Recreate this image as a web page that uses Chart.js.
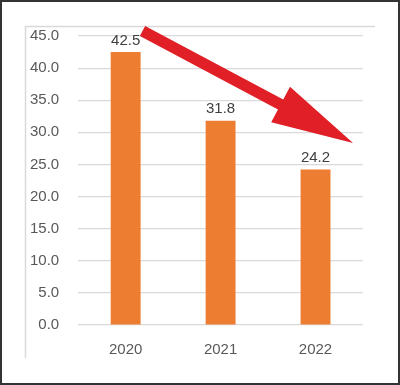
<!DOCTYPE html>
<html>
<head>
<meta charset="utf-8">
<script src="https://cdn.jsdelivr.net/npm/chart.js@4/dist/chart.umd.min.js"></script>
<style>
  html, body { margin: 0; padding: 0; background: #fff; }
  #wrap { width: 400px; height: 385px; position: relative; }
</style>
</head>
<body>
<div id="wrap"><canvas id="chart" width="400" height="385"></canvas></div>
<script>
// chart data
const years = ['2020', '2021', '2022'];
const values = [42.5, 31.8, 24.2];

const barColor = '#ed7d31';
const textColor = '#595959';
const fontFamily = '"Liberation Sans", Arial, sans-serif';

// frame: dark outer border + light inner lines
const framePlugin = {
    id: 'frame',
    beforeDraw(chart) {
        const ctx = chart.ctx;
        ctx.save();
        ctx.fillStyle = '#fff';
        ctx.fillRect(0, 0, chart.width, chart.height);
        ctx.strokeStyle = '#d9d9d9';
        ctx.lineWidth = 1.5;
        ctx.beginPath();
        ctx.moveTo(25.5, 358);
        ctx.lineTo(25.5, 26.5);
        ctx.lineTo(375, 26.5);
        ctx.stroke();
        ctx.strokeStyle = '#333';
        ctx.lineWidth = 2;
        ctx.strokeRect(1, 1, chart.width - 2, chart.height - 2);
        ctx.restore();
    }
};

// value labels above bars
const labelPlugin = {
    id: 'barLabels',
    afterDatasetsDraw(chart) {
        const ctx = chart.ctx;
        const meta = chart.getDatasetMeta(0);
        ctx.save();
        ctx.font = '15px ' + fontFamily;
        ctx.fillStyle = '#404040';
        ctx.textAlign = 'center';
        ctx.textBaseline = 'bottom';
        meta.data.forEach((bar, i) => {
            ctx.fillText(values[i].toFixed(1), bar.x, bar.y - 4);
        });
        ctx.restore();
    }
};

// big red trend arrow
const arrowPlugin = {
    id: 'arrow',
    afterDraw(chart) {
        const ctx = chart.ctx;
        const tail = { x: 142.5, y: 31 };
        const tip = { x: 353, y: 143 };
        const shaftHalf = 5.6;
        const headHalf = 20;
        const headLen = 82;

        const dx = tip.x - tail.x, dy = tip.y - tail.y;
        const len = Math.sqrt(dx * dx + dy * dy);
        const ux = dx / len, uy = dy / len;
        const nx = -uy, ny = ux;
        const bx = tip.x - ux * headLen, by = tip.y - uy * headLen;

        ctx.save();
        ctx.fillStyle = '#e11f27';
        ctx.beginPath();
        ctx.moveTo(tail.x + nx * shaftHalf, tail.y + ny * shaftHalf);
        ctx.lineTo(bx + nx * shaftHalf, by + ny * shaftHalf);
        ctx.lineTo(bx + nx * headHalf, by + ny * headHalf);
        ctx.lineTo(tip.x, tip.y);
        ctx.lineTo(bx - nx * headHalf, by - ny * headHalf);
        ctx.lineTo(bx - nx * shaftHalf, by - ny * shaftHalf);
        ctx.lineTo(tail.x - nx * shaftHalf, tail.y - ny * shaftHalf);
        ctx.closePath();
        ctx.fill();
        ctx.restore();
    }
};

new Chart(document.getElementById('chart'), {
    type: 'bar',
    data: {
        labels: years,
        datasets: [{
            data: values,
            backgroundColor: barColor,
            barPercentage: 0.315,
            categoryPercentage: 1
        }]
    },
    options: {
        responsive: false,
        animation: false,
        layout: {
            padding: { left: 11, right: 37, top: 36, bottom: 18 }
        },
        plugins: {
            legend: { display: false },
            tooltip: { enabled: false }
        },
        scales: {
            x: {
                grid: { display: false },
                border: { display: false },
                ticks: {
                    color: textColor,
                    padding: 8,
                    font: { family: fontFamily, size: 15 }
                }
            },
            y: {
                min: 0,
                max: 45,
                grid: { color: '#d9d9d9', lineWidth: 1.2, drawTicks: false },
                border: { display: false },
                ticks: {
                    stepSize: 5,
                    color: textColor,
                    padding: 19,
                    font: { family: fontFamily, size: 15 },
                    callback: v => Number(v).toFixed(1)
                }
            }
        }
    },
    plugins: [framePlugin, labelPlugin, arrowPlugin]
});
</script>
</body>
</html>
